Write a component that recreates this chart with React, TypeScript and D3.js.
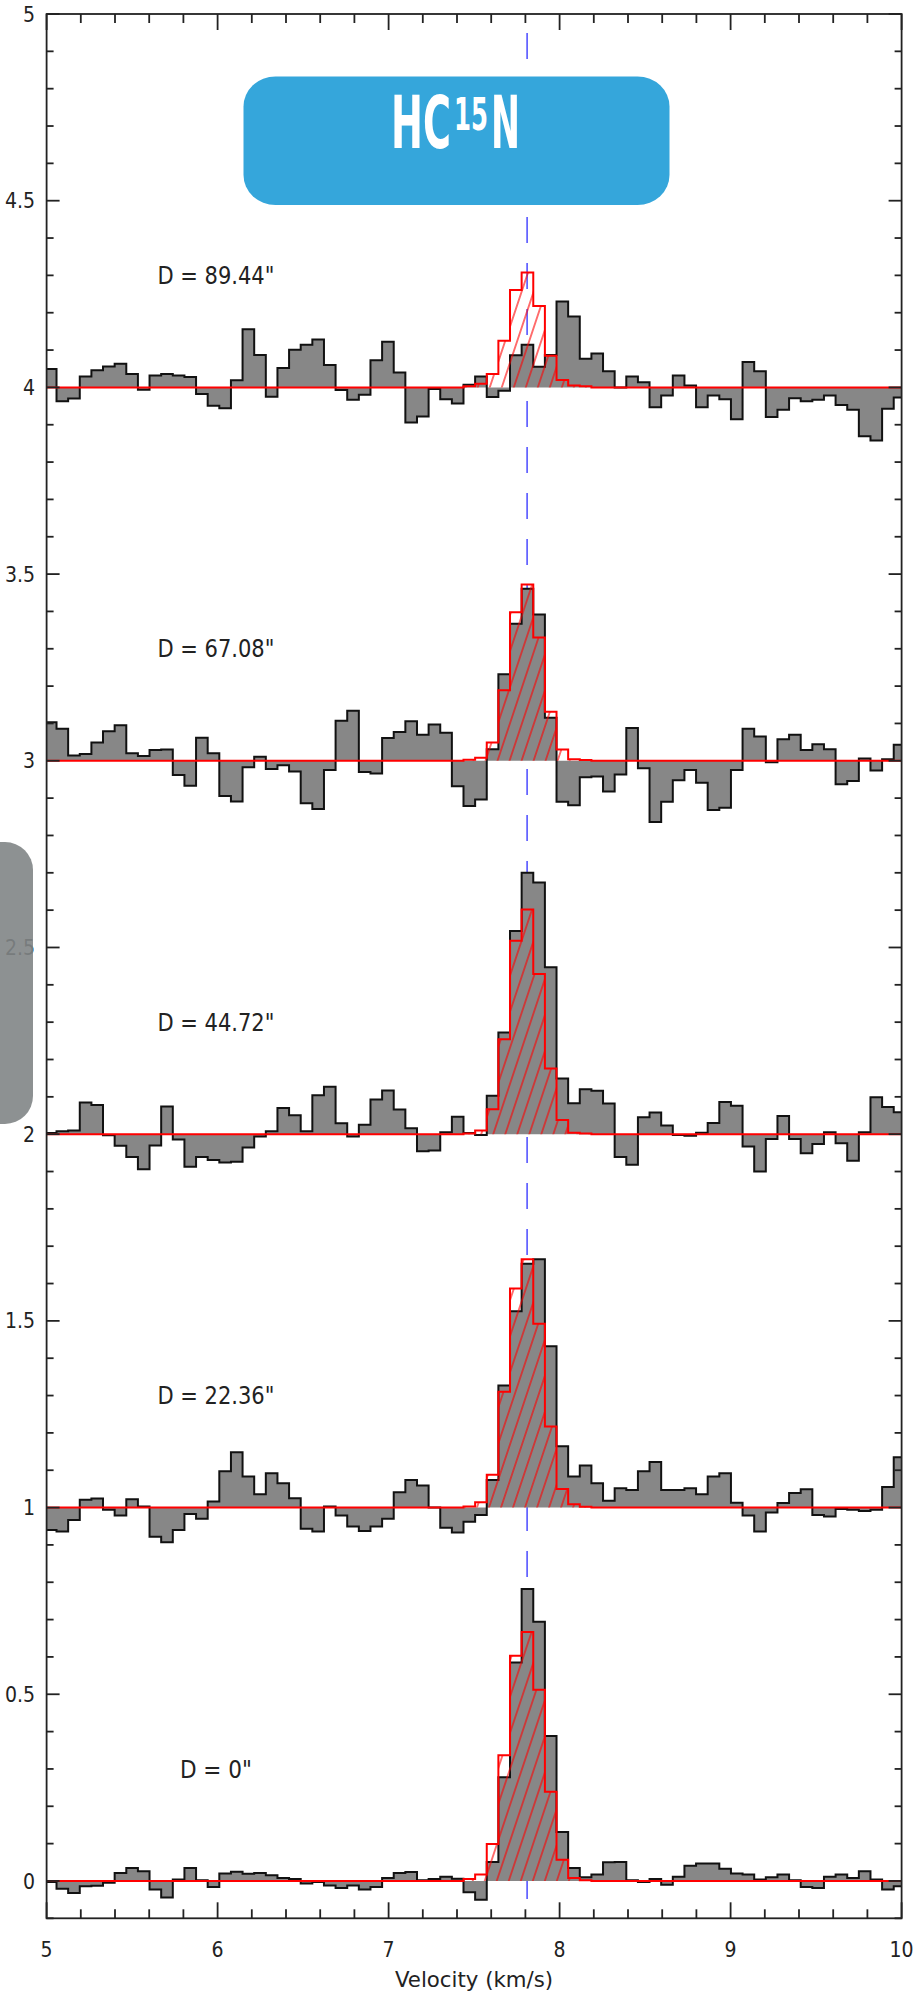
import React, { useLayoutEffect, useRef, useState } from "react";
import * as d3 from "d3";

// ---------------- data ----------------
// channel grid (km/s): first channel edge and channel width
const CHANNEL_START = 4.99;
const CHANNEL_WIDTH = 0.068;
const SYSTEMIC_VELOCITY = 7.81;

const X_TICK_LABELS = [5, 6, 7, 8, 9, 10];
const Y_TICK_LABELS = [0, 0.5, 1, 1.5, 2, 2.5, 3, 3.5, 4, 4.5, 5];

const OFFSETS = [4, 3, 2, 1, 0];
const LABELS = ['D = 89.44"', 'D = 67.08"', 'D = 44.72"', 'D = 22.36"', 'D = 0"'];

// observed spectra (offset-subtracted), 74 channels each
const obs_89 = [
  0.049, -0.037, -0.030, 0.029, 0.046, 0.056, 0.063, 0.036, -0.006, 0.032,
  0.036, 0.032, 0.028, -0.018, -0.049, -0.056, 0.019, 0.156, 0.087, -0.025,
  0.052, 0.101, 0.114, 0.128, 0.060, -0.007, -0.033, -0.020, 0.073, 0.122,
  0.040, -0.094, -0.078, -0.004, -0.032, -0.043, 0.007, 0.029, -0.026, -0.009,
  0.086, 0.114, 0.055, 0.087, 0.230, 0.190, 0.077, 0.091, 0.043, 0.000,
  0.029, 0.014, -0.053, -0.022, 0.032, 0.005, -0.053, -0.022, -0.032, -0.085,
  0.068, 0.043, -0.079, -0.060, -0.029, -0.037, -0.033, -0.022, -0.047, -0.060,
  -0.131, -0.142, -0.057, -0.027,
];
const obs_67 = [
  0.103, 0.086, 0.014, 0.018, 0.049, 0.079, 0.095, 0.020, 0.013, 0.029,
  0.030, -0.038, -0.067, 0.062, 0.020, -0.094, -0.109, -0.017, 0.011, -0.022,
  -0.012, -0.029, -0.114, -0.129, -0.025, 0.107, 0.134, -0.030, -0.034, 0.061,
  0.077, 0.106, 0.070, 0.097, 0.075, -0.068, -0.121, -0.104, 0.031, 0.232,
  0.367, 0.461, 0.392, 0.115, -0.110, -0.119, -0.044, -0.042, -0.082, -0.037,
  0.088, -0.020, -0.164, -0.110, -0.052, -0.025, -0.059, -0.132, -0.126, -0.025,
  0.086, 0.065, -0.004, 0.058, 0.070, 0.029, 0.044, 0.031, -0.063, -0.054,
  0.006, -0.026, 0.004, 0.043,
];
const obs_44 = [
  0.003, 0.008, 0.010, 0.085, 0.078, -0.003, -0.031, -0.061, -0.094, -0.030,
  0.074, -0.014, -0.087, -0.061, -0.069, -0.076, -0.074, -0.036, -0.006, 0.008,
  0.070, 0.051, 0.008, 0.104, 0.127, 0.029, -0.006, 0.025, 0.093, 0.117,
  0.066, 0.016, -0.046, -0.044, 0.005, 0.047, 0.003, -0.002, 0.103, 0.272,
  0.544, 0.700, 0.674, 0.447, 0.149, 0.083, 0.120, 0.116, 0.082, -0.061,
  -0.082, 0.045, 0.058, 0.023, -0.002, -0.004, 0.004, 0.030, 0.086, 0.076,
  -0.033, -0.100, -0.013, 0.049, -0.013, -0.051, -0.026, 0.005, -0.024, -0.071,
  0.005, 0.099, 0.073, 0.059,
];
const obs_22 = [
  -0.060, -0.064, -0.033, 0.021, 0.024, -0.006, -0.021, 0.022, 0.003, -0.078,
  -0.093, -0.060, -0.017, -0.030, 0.016, 0.097, 0.148, 0.083, 0.036, 0.092,
  0.065, 0.025, -0.057, -0.064, 0.003, -0.021, -0.051, -0.063, -0.051, -0.030,
  0.041, 0.074, 0.059, 0.000, -0.054, -0.067, -0.038, -0.020, 0.074, 0.327,
  0.526, 0.653, 0.665, 0.432, 0.164, 0.083, 0.113, 0.065, 0.018, 0.052,
  0.047, 0.097, 0.122, 0.047, 0.047, 0.052, 0.036, 0.083, 0.092, 0.013,
  -0.021, -0.064, -0.013, 0.012, 0.039, 0.049, -0.020, -0.024, -0.004, -0.006,
  -0.009, -0.006, 0.055, 0.135,
];
const obs_0 = [
  -0.003, -0.021, -0.032, -0.014, -0.013, -0.005, 0.021, 0.035, 0.026, -0.023,
  -0.044, 0.004, 0.035, 0.002, -0.016, 0.020, 0.025, 0.019, 0.021, 0.015,
  0.008, 0.005, -0.007, -0.003, -0.012, -0.019, -0.012, -0.023, -0.016, 0.008,
  0.021, 0.024, 0.002, 0.005, 0.011, 0.006, -0.030, -0.050, 0.051, 0.278,
  0.585, 0.782, 0.694, 0.388, 0.131, 0.035, 0.010, 0.017, 0.050, 0.051,
  0.002, -0.003, 0.005, -0.010, 0.011, 0.041, 0.047, 0.047, 0.033, 0.020,
  0.017, 0.004, 0.010, 0.017, 0.002, -0.016, -0.019, 0.011, 0.017, 0.008,
  0.026, 0.004, -0.023, -0.014,
];

// model spectra: non-zero channels 36..46 (zero elsewhere)
const MODEL_FIRST_CHANNEL = 36;
const model_89 = [0.003, 0.010, 0.036, 0.125, 0.261, 0.308, 0.218, 0.085, 0.020, 0.005, 0.003];
const model_67 = [0.003, 0.008, 0.049, 0.189, 0.398, 0.472, 0.330, 0.131, 0.030, 0.004, 0.002];
const model_44 = [0.002, 0.010, 0.067, 0.254, 0.518, 0.602, 0.429, 0.176, 0.038, 0.004, 0.002];
const model_22 = [0.003, 0.014, 0.088, 0.310, 0.587, 0.665, 0.492, 0.217, 0.050, 0.009, 0.002];
const model_0 = [0.005, 0.017, 0.099, 0.337, 0.603, 0.667, 0.512, 0.239, 0.057, 0.008, 0.002];

const OBS = [obs_89, obs_67, obs_44, obs_22, obs_0];
const MODELS = [model_89, model_67, model_44, model_22, model_0];

// title pieces: text, font size, raise, target left x and target width
const TITLE_PARTS = [
  { text: "HC", size: 73, raise: 0, left: 391, width: 60 },
  { text: "15", size: 45, raise: 18, left: 454, width: 34 },
  { text: "N", size: 73, raise: 0, left: 491, width: 29 },
];

// ---------------- layout ----------------
const W = 913;
const H = 1999;
const FONT = "'DejaVu Sans Condensed', 'DejaVu Sans', sans-serif";

const x = d3.scaleLinear().domain([5, 10]).range([46.6, 901.6]);
const y = d3.scaleLinear().domain([-0.1, 5]).range([1918.3, 14]);

type P = { v: number; t: number; b: number };

function stepPoints(vals: number[], offset: number, first: number): P[] {
  const pts: P[] = vals.map((val, i) => ({
    v: CHANNEL_START + (first + i) * CHANNEL_WIDTH,
    t: offset + val,
    b: offset,
  }));
  const last = vals[vals.length - 1];
  pts.push({ v: CHANNEL_START + (first + vals.length) * CHANNEL_WIDTH, t: offset + last, b: offset });
  return pts;
}

const areaGen = d3
  .area<P>()
  .x((d) => x(d.v))
  .y0((d) => y(d.b))
  .y1((d) => y(d.t))
  .curve(d3.curveStepAfter);

const lineGen = d3
  .line<P>()
  .x((d) => x(d.v))
  .y((d) => y(d.t))
  .curve(d3.curveStepAfter);

function fullModel(seg: number[], n: number): number[] {
  const out: number[] = [];
  for (let i = 0; i < n; i++) {
    const k = i - MODEL_FIRST_CHANNEL;
    out.push(k >= 0 && k < seg.length ? seg[k] : 0);
  }
  return out;
}

function Title() {
  const refs = useRef<(SVGTextElement | null)[]>([]);
  const [natural, setNatural] = useState<number[]>(TITLE_PARTS.map((p) => p.size * 0.6 * p.text.length));
  useLayoutEffect(() => {
    const w = TITLE_PARTS.map((p, i) => {
      const el = refs.current[i];
      return el ? el.getComputedTextLength() : p.size * 0.6 * p.text.length;
    });
    setNatural(w);
  }, []);
  return (
    <g>
      {TITLE_PARTS.map((p, i) => (
        <g key={p.text} transform={`translate(${p.left},${148 - p.raise}) scale(${p.width / (natural[i] || 1)},1)`}>
          <text
            ref={(el) => {
              refs.current[i] = el;
            }}
            x={0}
            y={0}
            fontFamily={FONT}
            fontWeight="bold"
            fontSize={p.size}
            fill="#fff"
          >
            {p.text}
          </text>
        </g>
      ))}
    </g>
  );
}

export default function App() {
  const [x0, x1] = x.range();
  const [yb, yt] = y.range();
  const minorY = d3.range(-1, 51).map((i) => i / 10);
  const minorX = d3.range(25, 51).map((i) => i / 5);

  return (
    <svg
      width={W}
      height={H}
      viewBox={`0 0 ${W} ${H}`}
      style={{ position: "absolute", left: 0, top: 0, background: "#fff" }}
    >
      <defs>
        <clipPath id="plotclip">
          <rect x={x0} y={yt} width={x1 - x0} height={yb - yt} />
        </clipPath>
        <pattern
          id="hatch"
          patternUnits="userSpaceOnUse"
          width={11.4}
          height={30}
          patternTransform="rotate(18.43)"
        >
          <line x1={5.7} y1={-2} x2={5.7} y2={32} stroke="#ff0000" strokeWidth={1.1} />
        </pattern>
      </defs>

      {/* systemic velocity line */}
      <line
        x1={x(SYSTEMIC_VELOCITY)}
        x2={x(SYSTEMIC_VELOCITY)}
        y1={33}
        y2={yb}
        stroke="#5555ff"
        strokeWidth={1.6}
        strokeDasharray="26 20"
      />

      <g clipPath="url(#plotclip)">
        {OFFSETS.map((off, k) => {
          const obsPts = stepPoints(OBS[k], off, 0);
          const mod = fullModel(MODELS[k], OBS[k].length);
          const modPts = stepPoints(mod, off, 0);
          return (
            <g key={k}>
              <path d={areaGen(obsPts) || ""} fill="#878787" stroke="none" />
              <path d={lineGen(obsPts) || ""} fill="none" stroke="#111" strokeWidth={2} />
              <path d={areaGen(modPts) || ""} fill="url(#hatch)" stroke="none" />
              <path d={lineGen(modPts) || ""} fill="none" stroke="#ff0000" strokeWidth={2} />
            </g>
          );
        })}
      </g>

      {/* frame */}
      <rect x={x0} y={yt} width={x1 - x0} height={yb - yt} fill="none" stroke="#222" strokeWidth={1.8} />

      {/* y ticks */}
      {minorY.map((v, i) => {
        const major = Math.abs(v * 2 - Math.round(v * 2)) < 1e-6;
        const len = major ? 13 : 7;
        return (
          <g key={"yt" + i}>
            <line x1={x0} x2={x0 + len} y1={y(v)} y2={y(v)} stroke="#222" strokeWidth={1.8} />
            <line x1={x1} x2={x1 - len} y1={y(v)} y2={y(v)} stroke="#222" strokeWidth={1.8} />
          </g>
        );
      })}
      {/* x ticks */}
      {minorX.map((v, i) => {
        const major = Math.abs(v - Math.round(v)) < 1e-6;
        const len = major ? 16 : 9;
        return (
          <g key={"xt" + i}>
            <line x1={x(v)} x2={x(v)} y1={yb} y2={yb - len} stroke="#222" strokeWidth={1.8} />
            <line x1={x(v)} x2={x(v)} y1={yt} y2={yt + len} stroke="#222" strokeWidth={1.8} />
          </g>
        );
      })}

      {/* tick labels */}
      {Y_TICK_LABELS.map((v) => (
        <text
          key={"yl" + v}
          x={35}
          y={y(v)}
          dy="0.36em"
          textAnchor="end"
          fontFamily={FONT}
          fontSize={21}
          fill="#222"
        >
          {String(v)}
        </text>
      ))}
      {X_TICK_LABELS.map((v) => (
        <text
          key={"xl" + v}
          x={x(v)}
          y={1957}
          textAnchor="middle"
          fontFamily={FONT}
          fontSize={21}
          fill="#222"
        >
          {String(v)}
        </text>
      ))}
      <text
        x={(x0 + x1) / 2}
        y={1987}
        textAnchor="middle"
        fontFamily={FONT}
        fontSize={22}
        fill="#222"
        textLength={158}
        lengthAdjust="spacingAndGlyphs"
      >
        Velocity (km/s)
      </text>

      {/* distance labels */}
      {OFFSETS.map((off, k) => (
        <text
          key={"d" + k}
          x={x(5.99)}
          y={y(off + 0.3)}
          dy="0.36em"
          textAnchor="middle"
          fontFamily={FONT}
          fontSize={24}
          fill="#222"
          textLength={k === 4 ? 72 : 117}
          lengthAdjust="spacingAndGlyphs"
        >
          {LABELS[k]}
        </text>
      ))}

      {/* title box */}
      <rect x={243.5} y={76.5} width={426} height={128.5} rx={32} ry={30} fill="#35a6db" />
      <Title />

      {/* grey tab on the left */}
      <rect x={-40} y={842} width={73} height={282} rx={28} ry={28} fill="rgb(129,133,134)" opacity={0.9} />
    </svg>
  );
}
